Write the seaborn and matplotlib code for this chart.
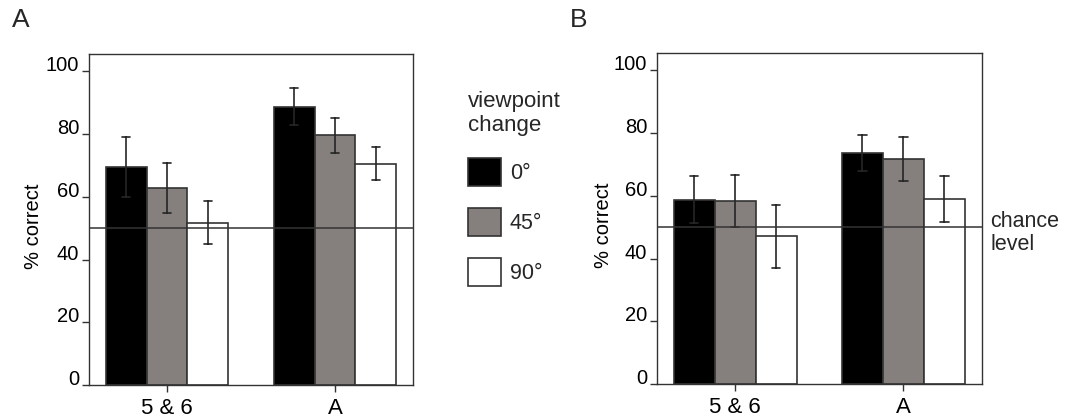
import numpy as np
import pandas as pd
import matplotlib
matplotlib.use("Agg")
import matplotlib.pyplot as plt
import matplotlib.transforms as mtransforms
import seaborn as sns

# ---- data ----
categories = ["5 & 6", "A"]
viewpoints = ["0°", "45°", "90°"]
# panel A
a_means = {"0°": [69.5, 88.7], "45°": [62.8, 79.6], "90°": [51.7, 70.5]}
a_errs = {"0°": [9.5, 5.9], "45°": [8.0, 5.6], "90°": [6.9, 5.3]}
# panel B
b_means = {"0°": [58.8, 73.6], "45°": [58.4, 71.8], "90°": [47.1, 59.0]}
b_errs = {"0°": [7.4, 5.8], "45°": [8.3, 7.0], "90°": [10.0, 7.4]}
chance = 50
yticks = [0, 20, 40, 60, 80, 100]

bar_colors = ["#000000", "#857f7d", "#ffffff"]
edge = "#333333"
errc = "#262626"

sns.set_theme(style="white")
plt.rcParams["font.family"] = ["Liberation Sans", "DejaVu Sans"]
plt.rcParams["font.size"] = 15


def long_frame(means, errs):
    rows = []
    for vp in viewpoints:
        for ci, cat in enumerate(categories):
            m, e = means[vp][ci], errs[vp][ci]
            rows.append({"group": cat, "viewpoint": vp, "value": m - e})
            rows.append({"group": cat, "viewpoint": vp, "value": m + e})
    return pd.DataFrame(rows)


fig = plt.figure(figsize=(10.76, 4.19), dpi=100)
H = 419.0
W = 1076.0
axA = fig.add_axes([89 / W, (H - 385) / H, 324 / W, 331 / H])
axB = fig.add_axes([657 / W, (H - 384) / H, 324.5 / W, 331 / H])


def draw(ax, means, errs, legend):
    df = long_frame(means, errs)
    sns.barplot(data=df, x="group", y="value", hue="viewpoint",
                order=categories, hue_order=viewpoints,
                palette=bar_colors, estimator="mean",
                errorbar=lambda v: (v.min(), v.max()),
                width=0.73, capsize=0.15, saturation=1,
                edgecolor=edge, linewidth=1.2,
                err_kws={"color": errc, "linewidth": 1.2},
                legend=legend, ax=ax)
    ax.axhline(chance, color=edge, linewidth=1.1, zorder=5)
    ax.set_xlim(-0.464, 1.464)
    ax.set_ylim(0, 105.5)
    ax.set_yticks(yticks)
    ax.set_yticklabels([str(t) for t in yticks])
    for lbl in ax.get_yticklabels():
        lbl.set_verticalalignment("baseline")
    ax.tick_params(axis="y", left=True, length=5, width=1, color=edge,
                   pad=2, labelsize=14.5, labelcolor="black")
    ax.tick_params(axis="x", bottom=True, length=5, width=1, color=edge,
                   pad=4, labelsize=16, labelcolor="black")
    for s in ax.spines.values():
        s.set_visible(True)
        s.set_color(edge)
        s.set_linewidth(1.0)
    ax.set_xlabel("")
    ax.set_ylabel("% correct", fontsize=14.5, color="black")


draw(axA, a_means, a_errs, True)
draw(axB, b_means, b_errs, False)
axA.yaxis.set_label_coords(-0.142, 0.48)
axB.yaxis.set_label_coords(-0.136, 0.48)

handles, labels = axA.get_legend_handles_labels()
if axA.get_legend() is not None:
    axA.get_legend().remove()
fig.legend(handles, labels, title="viewpoint\nchange", loc="upper left",
           bbox_to_anchor=(468 / W, 1 - 91 / H), frameon=False,
           fontsize=15.5, title_fontsize=16, alignment="left",
           handlelength=1.55, handleheight=1.62, labelspacing=1.02,
           handletextpad=0.4, borderpad=0, borderaxespad=0)

trans = mtransforms.blended_transform_factory(axB.transAxes, axB.transData)
axB.text(1.028, 48.2, "chance\nlevel", transform=trans, va="center",
         ha="left", fontsize=15.5, linespacing=1.1)

fig.text(12 / W, 1 - 8 / H, "A", fontsize=19, va="top", ha="left")
fig.text(570 / W, 1 - 8 / H, "B", fontsize=19, va="top", ha="left")

fig.savefig("out.png", dpi=100)
